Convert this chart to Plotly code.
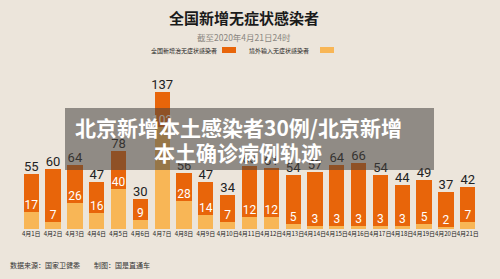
import plotly.graph_objects as go

dates = ["4月1日","4月2日","4月3日","4月4日","4月5日","4月6日","4月7日","4月8日","4月9日","4月10日",
         "4月11日","4月12日","4月13日","4月14日","4月15日","4月16日","4月17日","4月18日","4月19日","4月20日","4月21日"]
totals = [55, 60, 64, 47, 78, 30, 137, 56, 47, 34, 63, 61, 54, 57, 64, 66, 54, 44, 49, 37, 42]
imported = [17, 7, 26, 16, 40, 9, 102, 28, 14, 7, 12, 12, 5, 3, 3, 3, 3, 3, 5, 2, 7]
domestic = [t - i for t, i in zip(totals, imported)]

DARK = "#e8650a"
LIGHT = "#f8b656"
BG = "#ece5db"
NUM_FONT = "Liberation Sans Narrow, Roboto, sans-serif"
CJK = "Noto Sans CJK SC"

fig = go.Figure()
fig.add_trace(go.Bar(x=dates, y=imported, marker=dict(color=LIGHT, line=dict(width=0)),
                     name="境外输入无症状感染者", hoverinfo="skip"))
fig.add_trace(go.Bar(x=dates, y=domestic, marker=dict(color=DARK, line=dict(width=0)),
                     name="全国新增治无症状感染者", hoverinfo="skip"))
# inner white labels at the boundary
fig.add_trace(go.Scatter(x=dates, y=imported, mode="text", text=[str(v) for v in imported],
                         textposition="top center",
                         textfont=dict(color="white", size=12, family=NUM_FONT), hoverinfo="skip"))
# totals above bars
fig.add_trace(go.Scatter(x=dates, y=totals, mode="text", text=[str(v) for v in totals],
                         textposition="top center",
                         textfont=dict(color="#222222", size=13, family=NUM_FONT), hoverinfo="skip"))

L, R, T, B = 7, 8, 69, 50
W, H = 500, 279
pw = W - L - R
ph = H - T - B

def px(x):
    return (x - L) / pw

def py(y):
    return (H - B - y) / ph

shapes = [
    dict(type="rect", xref="paper", yref="paper", x0=px(222), x1=px(236), y0=py(53), y1=py(47),
         fillcolor=DARK, line=dict(width=0)),
    dict(type="rect", xref="paper", yref="paper", x0=px(320), x1=px(334), y0=py(53), y1=py(47),
         fillcolor=LIGHT, line=dict(width=0)),
    dict(type="rect", xref="paper", yref="paper", x0=px(65), x1=px(434), y0=py(170), y1=py(108),
         fillcolor="rgba(70,66,62,0.55)", line=dict(width=0), layer="above"),
]

annotations = [
    dict(text="<b>全国新增无症状感染者</b>", x=px(244), y=py(18), xref="paper", yref="paper",
         showarrow=False, font=dict(family=CJK, size=15, color="#1a1a1a"), xanchor="center", yanchor="middle"),
    dict(text="截至2020年4月21日24时", x=px(244), y=py(37), xref="paper", yref="paper",
         showarrow=False, font=dict(family=CJK, size=8.5, color="#8a8580"), xanchor="center", yanchor="middle"),
    dict(text="全国新增治无症状感染者", x=px(219), y=py(50), xref="paper", yref="paper",
         showarrow=False, font=dict(family=CJK, size=6, color="#222222"), xanchor="right", yanchor="middle"),
    dict(text="境外输入无症状感染者", x=px(311), y=py(50), xref="paper", yref="paper",
         showarrow=False, font=dict(family=CJK, size=6, color="#222222"), xanchor="right", yanchor="middle"),
    dict(text="<b>北京新增本土感染者30例/北京新增</b>", x=px(238), y=py(127),
         xref="paper", yref="paper", showarrow=False,
         font=dict(family=CJK, size=21, color="white"), xanchor="center", yanchor="middle"),
    dict(text="<b>本土确诊病例轨迹</b>", x=px(238), y=py(152),
         xref="paper", yref="paper", showarrow=False,
         font=dict(family=CJK, size=21, color="white"), xanchor="center", yanchor="middle"),
    dict(text="数据来源：国家卫健委　　制图：国是直通车", x=px(8), y=py(265), xref="paper", yref="paper",
         showarrow=False, font=dict(family=CJK, size=7, color="#333333"), xanchor="left", yanchor="middle"),
]

fig.update_layout(
    width=W, height=H, barmode="stack", bargap=0.3, showlegend=False,
    paper_bgcolor=BG, plot_bgcolor=BG,
    margin=dict(l=L, r=R, t=T, b=B, pad=0),
    shapes=shapes, annotations=annotations,
    xaxis=dict(showgrid=False, zeroline=False, showline=False, ticks="",
               tickfont=dict(family=CJK, size=6, color="#222222"), tickangle=0, fixedrange=True),
    yaxis=dict(range=[0, ph], visible=False, fixedrange=True),
)

fig.write_html("out.html", config={"displayModeBar": False})
